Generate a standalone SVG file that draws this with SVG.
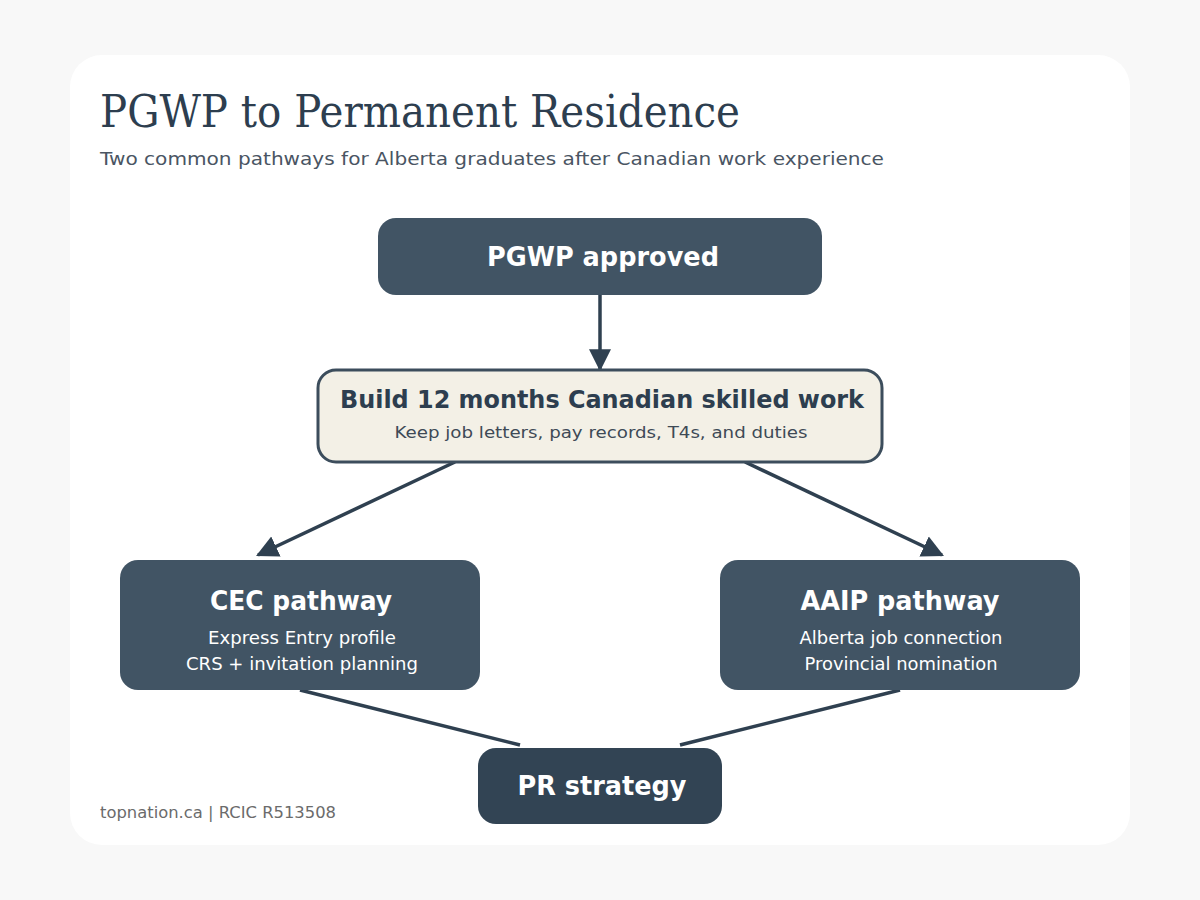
<svg xmlns="http://www.w3.org/2000/svg" width="1200" height="900" viewBox="0 0 1200 900">
<defs>
<marker id="arr" viewBox="0 0 10 10" refX="9" refY="5" markerWidth="22" markerHeight="24" markerUnits="userSpaceOnUse" orient="auto">
<path d="M0,0 L10,5 L0,10 Z" fill="#2f4050"/>
</marker>
<style>
.dark{fill:#415464}
.darker{fill:#324454}
.light{fill:#f3f0e6;stroke:#3c4d5c;stroke-width:3}
.t{font-family:"DejaVu Sans",Verdana,sans-serif;text-anchor:middle}
.hw{font-weight:bold;font-size:26px;fill:#ffffff}
.sw{font-size:17px;fill:#ffffff}
.conn{stroke:#2f4050;stroke-width:3.5;fill:none}
</style>
</defs>
<rect width="1200" height="900" fill="#f8f8f8"/>
<rect x="70" y="55" width="1060" height="790" rx="32" fill="#ffffff"/>
<text x="100" y="127" font-family="'DejaVu Serif',Georgia,serif" font-size="44" fill="#2d3e4f" textLength="640" lengthAdjust="spacingAndGlyphs">PGWP to Permanent Residence</text>
<text x="100" y="165" font-family="'DejaVu Sans',Verdana,sans-serif" font-size="18" fill="#4a5563" textLength="784" lengthAdjust="spacingAndGlyphs">Two common pathways for Alberta graduates after Canadian work experience</text>
<g id="connectors">
<line class="conn" x1="600" y1="295" x2="600" y2="369" marker-end="url(#arr)"/>
<line class="conn" x1="455" y1="462" x2="258" y2="555" marker-end="url(#arr)"/>
<line class="conn" x1="745" y1="462" x2="942" y2="555" marker-end="url(#arr)"/>
<line class="conn" x1="300" y1="690" x2="520" y2="745"/>
<line class="conn" x1="900" y1="690" x2="680" y2="745"/>
</g>
<g id="pgwp">
<rect class="dark" x="378" y="218" width="444" height="77" rx="18"/>
<text class="t hw" x="603" y="266" textLength="232" lengthAdjust="spacingAndGlyphs">PGWP approved</text>
</g>
<g id="build">
<rect class="light" x="318" y="370" width="564" height="92" rx="18"/>
<text class="t" x="602" y="408" font-weight="bold" font-size="24" fill="#2d3e4f" textLength="524" lengthAdjust="spacingAndGlyphs">Build 12 months Canadian skilled work</text>
<text class="t" x="601" y="438" font-size="16" fill="#3e4a56" textLength="413" lengthAdjust="spacingAndGlyphs">Keep job letters, pay records, T4s, and duties</text>
</g>
<g id="cec">
<rect class="dark" x="120" y="560" width="360" height="130" rx="18"/>
<text class="t hw" x="301" y="610" textLength="182" lengthAdjust="spacingAndGlyphs">CEC pathway</text>
<text class="t sw" x="302" y="644" textLength="188" lengthAdjust="spacingAndGlyphs">Express Entry profile</text>
<text class="t sw" x="302" y="670" textLength="232" lengthAdjust="spacingAndGlyphs">CRS + invitation planning</text>
</g>
<g id="aaip">
<rect class="dark" x="720" y="560" width="360" height="130" rx="18"/>
<text class="t hw" x="900" y="610" textLength="199" lengthAdjust="spacingAndGlyphs">AAIP pathway</text>
<text class="t sw" x="901" y="644" textLength="203" lengthAdjust="spacingAndGlyphs">Alberta job connection</text>
<text class="t sw" x="901" y="670" textLength="193" lengthAdjust="spacingAndGlyphs">Provincial nomination</text>
</g>
<g id="pr">
<rect class="darker" x="478" y="748" width="244" height="76" rx="18"/>
<text class="t hw" x="602" y="795" textLength="169" lengthAdjust="spacingAndGlyphs">PR strategy</text>
</g>
<text x="100" y="818" font-family="'DejaVu Sans',Verdana,sans-serif" font-size="15" fill="#6b6b6b" textLength="236" lengthAdjust="spacingAndGlyphs">topnation.ca | RCIC R513508</text>
</svg>
